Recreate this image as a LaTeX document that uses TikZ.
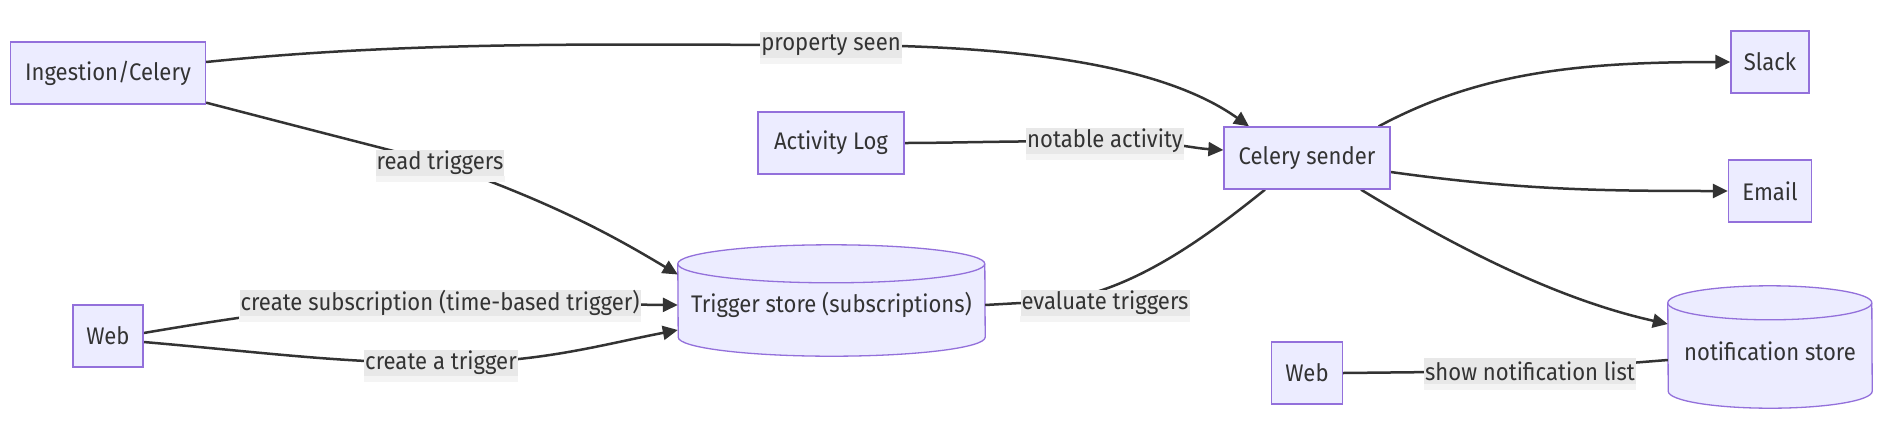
\documentclass[tikz,border=0pt]{standalone}
\usepackage{fontspec}
\setmainfont[FakeStretch=0.92]{Fira Sans}
\usetikzlibrary{arrows.meta,calc}
\definecolor{nodefill}{HTML}{ECECFF}
\definecolor{nodeborder}{HTML}{9370DB}
\definecolor{linec}{HTML}{333333}
\definecolor{lbldark}{HTML}{E8E8E8}
\definecolor{lbllight}{HTML}{F4F4F4}
\pgfdeclarelayer{bg}
\pgfsetlayers{bg,main}
\newcommand\cylshape[3]{%
  \filldraw[cylstyle] ($(#1.north west)+(0,-#3)$) arc[start angle=180,end angle=0,x radius=#2,y radius=#3]
    -- ($(#1.south east)+(0,#3)$) arc[start angle=0,end angle=-180,x radius=#2,y radius=#3] -- cycle;
  \draw[cylstyle] ($(#1.north west)+(0,-#3)$) arc[start angle=180,end angle=360,x radius=#2,y radius=#3];
}
\begin{document}
\begin{tikzpicture}[x=1pt,y=1pt,
  txt/.style={font=\fontsize{24}{28}\selectfont, text=linec},
  box/.style={txt, draw=nodeborder, fill=nodefill, line width=1.3pt, minimum height=62pt, inner sep=0pt},
  cylnode/.style={txt, inner sep=0pt},
  cylstyle/.style={draw=nodeborder, fill=nodefill, line width=1.3pt},
  lbl/.style={txt, fill=lbldark, inner xsep=1pt, inner ysep=0pt, minimum height=26pt},
  edge/.style={draw=linec, line width=2.5pt},
  arr/.style={-{Triangle[length=15pt,width=14pt]}}]
\useasboundingbox (0,0) rectangle (1884,-445);

% nodes
\node[box, minimum width=195pt] (ing) at (108,-73) {Ingestion/Celery};
\node[box, minimum width=146pt] (act) at (831,-143) {Activity Log};
\node[box, minimum width=166pt] (cel) at (1307,-158) {Celery sender};
\node[box, minimum width=78pt] (slack) at (1770,-62) {Slack};
\node[box, minimum width=83pt] (email) at (1770,-191) {Email};
\node[box, minimum width=70pt] (wl) at (108,-336) {Web};
\node[box, minimum width=71pt] (wr) at (1307,-373) {Web};
\node[cylnode, minimum width=307pt, minimum height=111pt] (ts) at (831.5,-300.5) {};
\node[cylnode, minimum width=204pt, minimum height=122pt] (ns) at (1770,-347) {};
\node[txt] (tstext) at ($(ts.center)+(0,-4)$) {Trigger store (subscriptions)};
\node[txt] (nstext) at ($(ns.center)+(0,-4)$) {notification store};

% edge labels
\node[lbl] (l1) at (831,-45) {property seen};
\node[lbl] (l2) at (440,-163) {read triggers};
\node[lbl] (l3) at (1105,-141) {notable activity};
\node[lbl] (l4) at (440,-303) {create subscription (time-based trigger)};
\node[lbl] (l5) at (441,-363) {create a trigger};
\node[lbl] (l6) at (1105,-303) {evaluate triggers};
\node[lbl] (l7) at (1530,-371) {show notification list};
\foreach \n in {l1,l2,l3,l4,l5,l6,l7}
  \fill[lbllight] (\n.south west) rectangle ($(\n.south east)+(0,-6)$);

\begin{pgfonlayer}{bg}
\fill[white] (0,0) rectangle (1884,-445);
\cylshape{ts}{153.5}{19}
\cylshape{ns}{102}{17}
% edges
\draw[edge,arr] ($(ing.east)+(0,11)$) .. controls (420,-40) and (620,-45) .. (l1.center)
  .. controls (1040,-45) and (1170,-70) .. ($(cel.north)+(-58,0)$);
\draw[edge,arr] ($(ing.south east)+(0,2)$) .. controls (300,-127) .. (l2.center)
  .. controls (560,-205) and (620,-240) .. ($(ts.west)+(0,26)$);
\draw[edge,arr] (act.east) .. controls (950,-143) and (1000,-141) .. (l3.center)
  .. controls (1170,-141) and (1190,-148) .. ($(cel.west)+(0,8)$);
\draw[edge,arr] ($(wl.east)+(0,3)$) .. controls (250,-315) and (330,-303) .. (l4.center)
  -- ($(ts.west)+(0,-4.5)$);
\draw[edge,arr] ($(wl.east)+(0,-6)$) .. controls (260,-352) and (340,-363) .. (l5.center)
  .. controls (540,-363) and (600,-345) .. ($(ts.west)+(0,-29.5)$);
\draw[edge] ($(ts.east)+(0,-4.5)$) -- (l6.west)
  .. controls (1110,-306) and (1190,-250) .. ($(cel.south)+(-42,0)$);
\draw[edge,arr] ($(cel.north east)+(-12,0)$) .. controls (1480,-72) and (1580,-62) .. (slack.west);
\draw[edge,arr] ($(cel.east)+(0,-14)$) .. controls (1520,-190) and (1600,-191) .. (email.west);
\draw[edge,arr] ($(cel.south)+(54,0)$) .. controls (1460,-250) and (1560,-300) .. ($(ns.west)+(0,23)$);
\draw[edge] (wr.east) -- (l7.center) -- ($(ns.west)+(0,-13)$);
\end{pgfonlayer}
\end{tikzpicture}
\end{document}
